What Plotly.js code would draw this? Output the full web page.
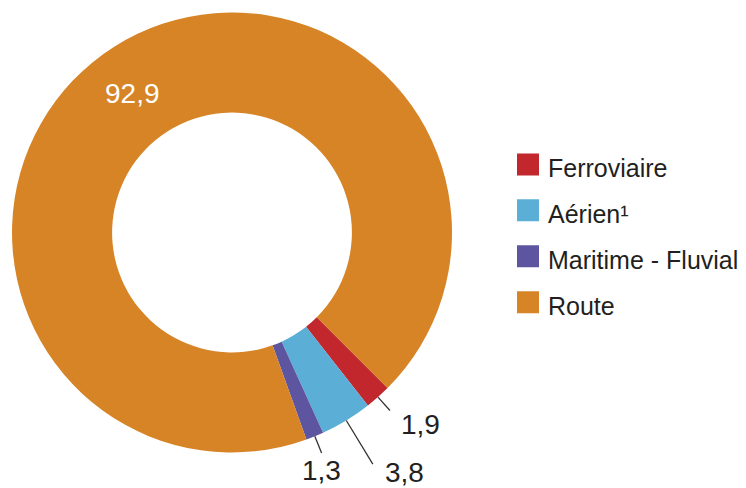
<!DOCTYPE html>
<html><head><meta charset="utf-8">
<script src="https://cdn.plot.ly/plotly-3.0.1.min.js"></script>
<style>html,body{margin:0;padding:0;background:#fff}</style>
</head><body>
<div id="chart" style="width:746px;height:488px"></div>
<script>
// ---- data ----
const categories = ['Ferroviaire', 'Aérien¹', 'Maritime - Fluvial', 'Route'];
const values = [1.9, 3.8, 1.3, 92.9];
const colors = ['#C1272D', '#5BAED6', '#5E55A0', '#D68426'];
const valueLabels = values.map(v => v.toFixed(1).replace('.', ','));

// ---- layout / style constants ----
const W = 746, H = 488;
const CX = 232, CY = 232.5, R = 220, HOLE = 0.545;
const ROTATION = 135;
const FONT = 'Liberation Sans, Arial, Helvetica, sans-serif';
const TEXT_COLOR = '#231f20';
const outsideIdx = [0, 1, 2];
const leaderLen = [18, 51, 18];
const labelAnchor = ['left', 'left', 'center'];
const labelShift = [[9, -14], [10, -8], [0, -18]];
const insideIdx = 3;
const insideAngleOffset = -3.4;

const total = values.reduce((a, b) => a + b, 0);
let acc = ROTATION;
const mids = values.map(v => { const span = v / total * 360; const m = acc + span / 2; acc += span; return m; });

const px = x => x / W, py = y => 1 - y / H;
const shapes = [], annotations = [];
outsideIdx.forEach((i, k) => {
  const a = mids[i] * Math.PI / 180;
  const sx = Math.sin(a), sy = -Math.cos(a);
  const x0 = CX + R * sx, y0 = CY + R * sy;
  const x1 = CX + (R + leaderLen[k]) * sx, y1 = CY + (R + leaderLen[k]) * sy;
  shapes.push({type: 'line', xref: 'paper', yref: 'paper', x0: px(x0), y0: py(y0), x1: px(x1), y1: py(y1),
    line: {color: '#333333', width: 1.3}});
  annotations.push({xref: 'paper', yref: 'paper', x: px(x1), y: py(y1), text: valueLabels[i], showarrow: false,
    xanchor: labelAnchor[k], yanchor: 'middle', xshift: labelShift[k][0], yshift: labelShift[k][1],
    font: {family: FONT, size: 28, color: TEXT_COLOR}});
});
{
  const a = (mids[insideIdx] + insideAngleOffset) * Math.PI / 180;
  const rr = R * (1 + HOLE) / 2;
  annotations.push({xref: 'paper', yref: 'paper', x: px(CX + rr * Math.sin(a)), y: py(CY - rr * Math.cos(a)),
    text: valueLabels[insideIdx], showarrow: false, xanchor: 'center', yanchor: 'middle', yshift: 1,
    font: {family: FONT, size: 28, color: '#ffffff'}});
}

const trace = {
  type: 'pie',
  labels: categories.map(c => '<span style="font-size:25px">' + c + '</span>'),
  values: values,
  textinfo: 'none',
  marker: {colors: colors, line: {width: 0}},
  hole: HOLE,
  sort: false,
  direction: 'clockwise',
  rotation: ROTATION,
  hoverinfo: 'none',
  domain: {x: [px(CX - R), px(CX + R)], y: [py(CY + R), py(CY - R)]}
};

const layout = {
  width: W, height: H,
  margin: {l: 0, r: 0, t: 0, b: 0},
  paper_bgcolor: '#ffffff',
  showlegend: true,
  legend: {x: 508 / W, y: 1 - 136.5 / H, xanchor: 'left', yanchor: 'top',
    font: {family: FONT, size: 33, color: TEXT_COLOR}, bgcolor: 'rgba(0,0,0,0)'},
  shapes: shapes,
  annotations: annotations
};

Plotly.newPlot('chart', [trace], layout, {staticPlot: true, displayModeBar: false}).then(gd => {
  gd.querySelectorAll('.legendpie').forEach(p => p.setAttribute('d', 'M11,11V-11H-11V11Z'));
});
</script>
</body></html>
